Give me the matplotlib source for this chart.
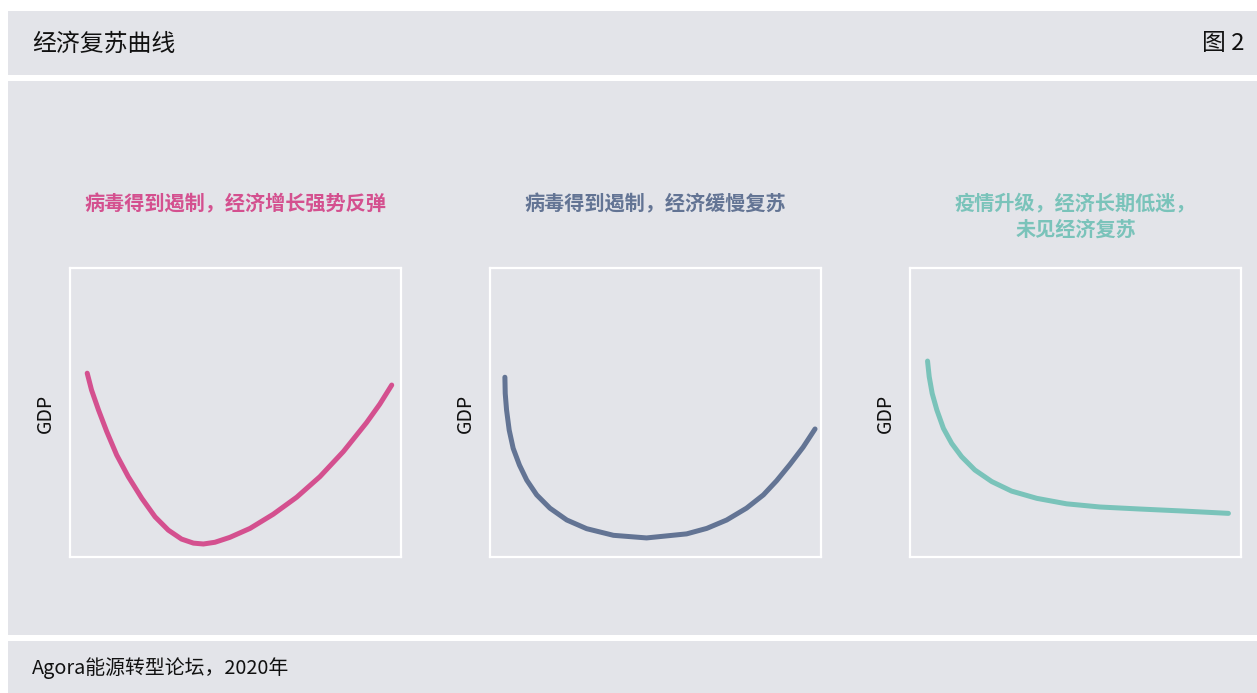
import numpy as np
import matplotlib
matplotlib.use('Agg')
import matplotlib.pyplot as plt
from matplotlib.patches import Rectangle

plt.rcParams['font.family'] = ['Noto Sans CJK SC', 'DejaVu Sans']

# data, in percent of the plot box
x1 = [5.2, 6.5, 8.6, 11.1, 14.1, 17.6, 21.7, 25.7, 29.7, 33.7, 37.3, 40.3, 43.8, 48.3,
      54.4, 61.4, 68.5, 75.5, 82.6, 89.6, 93.6, 97.2]
y1 = [63.6, 57.8, 50.9, 43.4, 35.3, 27.8, 20.3, 13.9, 9.3, 6.2, 4.8, 4.5, 5.1, 6.8,
      9.9, 14.8, 20.7, 27.8, 36.5, 46.5, 52.9, 59.5]
x2 = [4.5, 4.6, 5.0, 5.8, 7.0, 8.9, 11.1, 14.1, 18.1, 23.2, 29.2, 37.3, 47.3,
      59.4, 65.5, 71.5, 77.5, 82.6, 86.6, 90.6, 94.6, 98.2]
y2 = [62.2, 56.6, 50.9, 43.9, 37.6, 31.8, 26.6, 21.5, 16.9, 12.8, 9.8, 7.5, 6.6,
      8.0, 9.9, 12.8, 16.9, 21.5, 26.4, 32.0, 38.0, 44.3]
x3 = [5.3, 5.8, 6.7, 8.1, 10.1, 12.6, 15.6, 19.6, 24.7, 30.7, 38.3, 47.3, 57.4, 69.5, 82.6, 96.2]
y3 = [67.8, 62.4, 56.6, 50.9, 44.5, 39.3, 34.7, 30.1, 26.1, 22.8, 20.3, 18.4, 17.3, 16.6, 15.9, 15.1]

titles = ['病毒得到遏制，经济增长强势反弹',
          '病毒得到遏制，经济缓慢复苏',
          '疫情升级，经济长期低迷，\n未见经济复苏']
colors = ['#d4508f', '#637494', '#7ac3ba']
series = [(x1, y1), (x2, y2), (x3, y3)]

W, H = 1257, 693
bg = '#e3e4e9'
fig = plt.figure(figsize=(W / 100, H / 100), dpi=100)
fig.patch.set_facecolor('white')

def px(x0, y0, x1_, y1_):
    # pixel box (top-down) -> figure fraction rect
    return (x0 / W, 1 - y1_ / H), (x1_ - x0) / W, (y1_ - y0) / H

for box in [(8, 11, W, 75), (8, 81, W, 635), (8, 641, W, H)]:
    xy, w, h = px(*box)
    fig.patches.append(Rectangle(xy, w, h, transform=fig.transFigure,
                                 facecolor=bg, edgecolor='none', zorder=0))

fig.text(32 / W, 1 - 44 / H, '经济复苏曲线', fontsize=17.2, va='center', ha='left', color='#111111')
fig.text(1245 / W, 1 - 44 / H, '图 2', fontsize=17.2, va='center', ha='right', color='#111111')
fig.text(32 / W, 1 - 668 / H, 'Agora能源转型论坛，2020年', fontsize=14.3, va='center', ha='left', color='#111111')

lefts = [70, 490, 910]
for i in range(3):
    xy, w, h = px(lefts[i], 268, lefts[i] + 331, 557)
    ax = fig.add_axes([xy[0], xy[1], w, h])
    ax.set_zorder(2)
    ax.set_facecolor('none')
    ax.plot(series[i][0], series[i][1], color=colors[i], lw=3.6,
            solid_capstyle='round', solid_joinstyle='round')
    ax.set_xlim(0, 100)
    ax.set_ylim(0, 100)
    ax.set_xticks([])
    ax.set_yticks([])
    for s in ax.spines.values():
        s.set_color('white')
        s.set_linewidth(1.6)
    ax.text(0.5, 1 + (268 - 193) / 289, titles[i], transform=ax.transAxes,
            ha='center', va='top', fontsize=14.5, fontweight='bold',
            color=colors[i], linespacing=1.25)
    fig.text((lefts[i] - 25) / W, 1 - 413 / H, 'GDP', rotation=90,
             ha='center', va='center', fontsize=14, color='#111111')

plt.savefig('out.png', dpi=100, facecolor=fig.get_facecolor())
